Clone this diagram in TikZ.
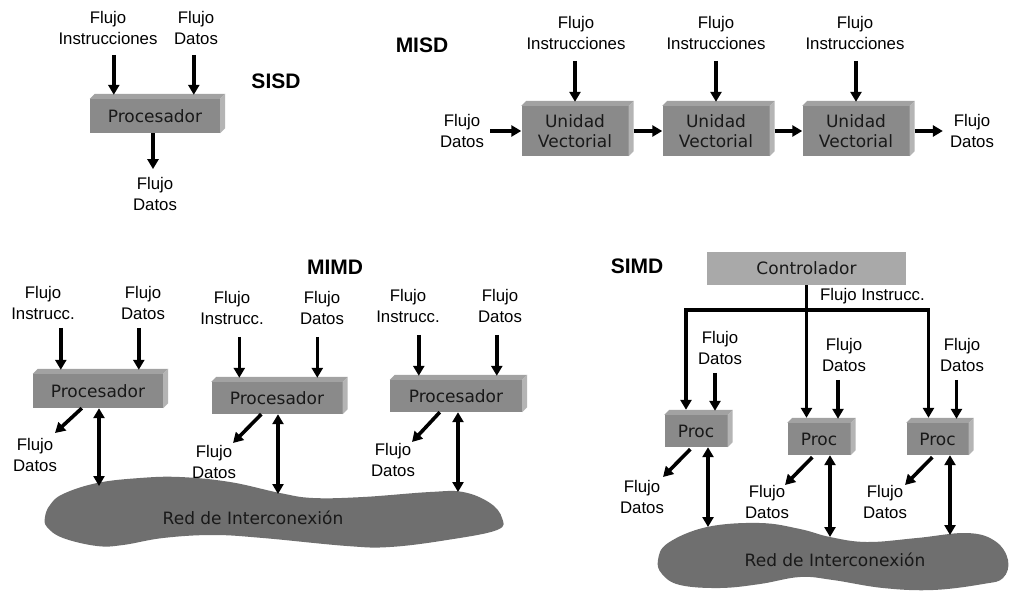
\documentclass[tikz,border=0pt]{standalone}
\usepackage{fontspec}
\setmainfont{Liberation Sans}
\newfontfamily\cajafont{DejaVu Sans}
\usetikzlibrary{arrows.meta}

\definecolor{frente}{HTML}{8A8A8A}
\definecolor{tapa}{HTML}{A2A2A2}
\definecolor{lado}{HTML}{B4B4B4}
\definecolor{nube}{HTML}{6F6F6F}
\definecolor{ctrlgris}{HTML}{A9A9A9}

\tikzset{
  caja/.style={fill=frente, inner sep=0pt, align=center,
    font=\cajafont\fontsize{17}{20}\selectfont, text=black!90},
  ctrlbox/.style={fill=ctrlgris, inner sep=0pt,
    font=\cajafont\fontsize{17}{20}\selectfont, text=black!90},
  redtxt/.style={inner sep=0pt, font=\cajafont\fontsize{17}{20}\selectfont, text=black!90},
  lab/.style={inner sep=0pt, align=center, font=\fontsize{16.8}{21}\selectfont},
  titulo/.style={inner sep=0pt, font=\bfseries\fontsize{21}{24}\selectfont},
  flecha/.style={line width=3.6pt, -{Triangle[width=11pt,length=10pt]}},
  doble/.style={line width=3.6pt, {Triangle[width=11pt,length=10pt]}-{Triangle[width=11pt,length=10pt]}},
}

% 3D box: name, centre x, centre y, width, height, text
\newcommand{\cubo}[6]{%
  \node[caja, minimum width=#4pt, minimum height=#5pt] (#1) at (#2,#3) {#6};
  \fill[tapa] (#1.north west) -- ++(5,-5) -- ([shift={(5,-5)}]#1.north east) -- (#1.north east) -- cycle;
  \fill[lado] (#1.north east) -- ([shift={(5,-5)}]#1.north east) -- ([shift={(5,-5)}]#1.south east) -- (#1.south east) -- cycle;
}

\begin{document}
\begin{tikzpicture}[x=1pt,y=-1pt]
\fill[white] (0,0) rectangle (1009,590);
\useasboundingbox (0,0) rectangle (1009,590);

% ---------------- SISD ----------------
\cubo{sisd}{155}{116}{130}{34}{Procesador}
\node[titulo] (sisdT) at (276,81) {SISD};
\node[lab] (sisdI) at (108,28) {Flujo\\Instrucciones};
\node[lab] (sisdD) at (196,28) {Flujo\\Datos};
\node[lab] (sisdO) at (155,194) {Flujo\\Datos};
\coordinate (sa) at ([xshift=24pt,yshift=4pt]sisd.north west);
\coordinate (sb) at ([xshift=104pt,yshift=4pt]sisd.north west);
\draw[flecha, shorten <=10pt] (sisdI.south -| sa) -- (sa);
\draw[flecha, shorten <=10pt] (sisdD.south -| sb) -- (sb);
\draw[flecha, shorten >=8pt] ([xshift=-2pt]sisd.south) -- ([xshift=-2pt]sisdO.north);

% ---------------- MISD ----------------
\node[titulo] (misdT) at (422,45) {MISD};
\cubo{uv1}{575}{131}{107}{50}{Unidad\\Vectorial}
\cubo{uv2}{716}{131}{107}{50}{Unidad\\Vectorial}
\cubo{uv3}{856}{131}{107}{50}{Unidad\\Vectorial}
\node[lab] (mi1) at (576,33) {Flujo\\Instrucciones};
\node[lab] (mi2) at (716,33) {Flujo\\Instrucciones};
\node[lab] (mi3) at (855,33) {Flujo\\Instrucciones};
\node[lab] (mdin) at (462,131) {Flujo\\Datos};
\node[lab] (mdout) at (972,131) {Flujo\\Datos};
\foreach \i in {1,2,3}{
  \coordinate (mt\i) at ([yshift=4pt]uv\i.north);
  \draw[flecha, shorten <=11pt] (mi\i.south -| mt\i) -- (mt\i);
}
\draw[flecha, shorten <=6pt] (mdin.east) -- (uv1.west);
\draw[flecha] ([xshift=5pt]uv1.east) -- (uv2.west);
\draw[flecha] ([xshift=5pt]uv2.east) -- (uv3.west);
\draw[flecha, shorten >=7pt] ([xshift=5pt]uv3.east) -- (mdout.west);

% ---------------- MIMD ----------------
\fill[nube] plot[smooth cycle, tension=0.65] coordinates {
  (45,517) (50,505) (63,494) (97,483) (140,478) (180,477) (230,482)
  (280,493) (313,498) (363,497) (430,492) (463,492) (490,503) (502,518)
  (497,530) (447,540) (390,547) (347,546) (263,538) (213,535) (163,538)
  (123,545) (97,546) (63,538) (47,527)};
\node[redtxt] (red1) at (253,518) {Red de Interconexión};

\node[titulo] (mimdT) at (335,267) {MIMD};
\cubo{p1}{98}{391}{130}{34}{Procesador}
\cubo{p2}{277}{398}{131}{32}{Procesador}
\cubo{p3}{456}{396}{132}{32}{Procesador}
\node[lab] (p1i) at (43,303) {Flujo\\Instrucc.};
\node[lab] (p1d) at (143,303) {Flujo\\Datos};
\node[lab] (p2i) at (232,308) {Flujo\\Instrucc.};
\node[lab] (p2d) at (322,308) {Flujo\\Datos};
\node[lab] (p3i) at (408,306) {Flujo\\Instrucc.};
\node[lab] (p3d) at (500,306) {Flujo\\Datos};
\node[lab] (p1o) at (35,455) {Flujo\\Datos};
\node[lab] (p2o) at (214,462) {Flujo\\Datos};
\node[lab] (p3o) at (393,460) {Flujo\\Datos};

\coordinate (p1a) at ([xshift=28pt,yshift=4pt]p1.north west);
\coordinate (p1b) at ([xshift=106pt,yshift=4pt]p1.north west);
\coordinate (p2a) at ([xshift=28pt,yshift=4pt]p2.north west);
\coordinate (p2b) at ([xshift=106pt,yshift=4pt]p2.north west);
\coordinate (p3a) at ([xshift=29pt,yshift=4pt]p3.north west);
\coordinate (p3b) at ([xshift=107pt,yshift=4pt]p3.north west);
\draw[flecha, shorten <=8pt] (p1i.south -| p1a) -- (p1a);
\draw[flecha, shorten <=8pt] (p1d.south -| p1b) -- (p1b);
\draw[flecha, shorten <=12pt] (p2i.south -| p2a) -- (p2a);
\draw[flecha, shorten <=12pt] (p2d.south -| p2b) -- (p2b);
\draw[flecha, shorten <=12pt] (p3i.south -| p3a) -- (p3a);
\draw[flecha, shorten <=12pt] (p3d.south -| p3b) -- (p3b);

\draw[flecha] ([xshift=49pt]p1.south west) -- ([shift={(20,-22)}]p1o.center);
\draw[flecha] ([xshift=50pt]p2.south west) -- ([shift={(19,-19)}]p2o.center);
\draw[flecha] ([xshift=50pt]p3.south west) -- ([shift={(19,-18)}]p3o.center);

\coordinate (c1) at (99,486);
\coordinate (c2) at (278,494);
\coordinate (c3) at (458,492);
\draw[doble] (p1.south -| c1) -- (c1);
\draw[doble] (p2.south -| c2) -- (c2);
\draw[doble] (p3.south -| c3) -- (c3);

% ---------------- SIMD ----------------
\fill[nube] plot[smooth cycle, tension=0.65] coordinates {
  (658,560) (668,543) (707,527) (760,523) (800,529) (830,537) (867,542)
  (917,538) (967,533) (995,541) (1008,560) (1003,578) (983,584) (933,590)
  (883,588) (833,580) (800,577) (760,584) (720,588) (680,585) (662,574)};
\node[redtxt] (red2) at (835,560) {Red de Interconexión};

\node[titulo] (simdT) at (637,266) {SIMD};
\node[ctrlbox, minimum width=199pt, minimum height=33pt] (ctl) at (806.5,268.5) {Controlador};
\cubo{q1}{696}{431}{63}{32}{Proc}
\cubo{q2}{819}{439}{63}{32}{Proc}
\cubo{q3}{937.5}{439}{62}{32}{Proc}
\node[lab, anchor=west] (fi) at (820,296) {Flujo Instrucc.};

\coordinate (bus) at ([yshift=-25pt]ctl.south);
\coordinate (t1) at ([xshift=-10pt,yshift=5pt]q1.north);
\coordinate (t2) at ([xshift=-12pt,yshift=5pt]q2.north);
\coordinate (t3) at ([xshift=-9pt,yshift=5pt]q3.north);
\draw[flecha] (ctl.south) -- (ctl.south |- t2);
\draw[flecha] (bus) -| (t1);
\draw[flecha] (bus) -| (t3);

\node[lab] (qd1) at (720,348) {Flujo\\Datos};
\node[lab] (qd2) at (844,355) {Flujo\\Datos};
\node[lab] (qd3) at (962,355) {Flujo\\Datos};
\coordinate (d1) at ([xshift=19pt,yshift=4pt]q1.north);
\coordinate (d2) at ([xshift=19pt,yshift=4pt]q2.north);
\coordinate (d3) at ([xshift=19pt,yshift=4pt]q3.north);
\draw[flecha, shorten <=8pt] (qd1.south -| d1) -- (d1);
\draw[flecha, shorten <=8pt] (qd2.south -| d2) -- (d2);
\draw[flecha, shorten <=8pt] (qd3.south -| d3) -- (d3);

\node[lab] (qo1) at (642,497) {Flujo\\Datos};
\node[lab] (qo2) at (767,502) {Flujo\\Datos};
\node[lab] (qo3) at (885,502) {Flujo\\Datos};
\draw[flecha] ([xshift=26pt,yshift=-2pt]q1.south west) -- ([shift={(21,-20)}]qo1.center);
\draw[flecha] ([xshift=25pt,yshift=-2pt]q2.south west) -- ([shift={(18,-17)}]qo2.center);
\draw[flecha] ([xshift=26pt,yshift=-2pt]q3.south west) -- ([shift={(20,-17)}]qo3.center);

\coordinate (e1) at (708,527);
\coordinate (e2) at (830,537);
\coordinate (e3) at (950,535);
\draw[doble] (q1.south -| e1) -- (e1);
\draw[doble] (q2.south -| e2) -- (e2);
\draw[doble] (q3.south -| e3) -- (e3);
\end{tikzpicture}
\end{document}
